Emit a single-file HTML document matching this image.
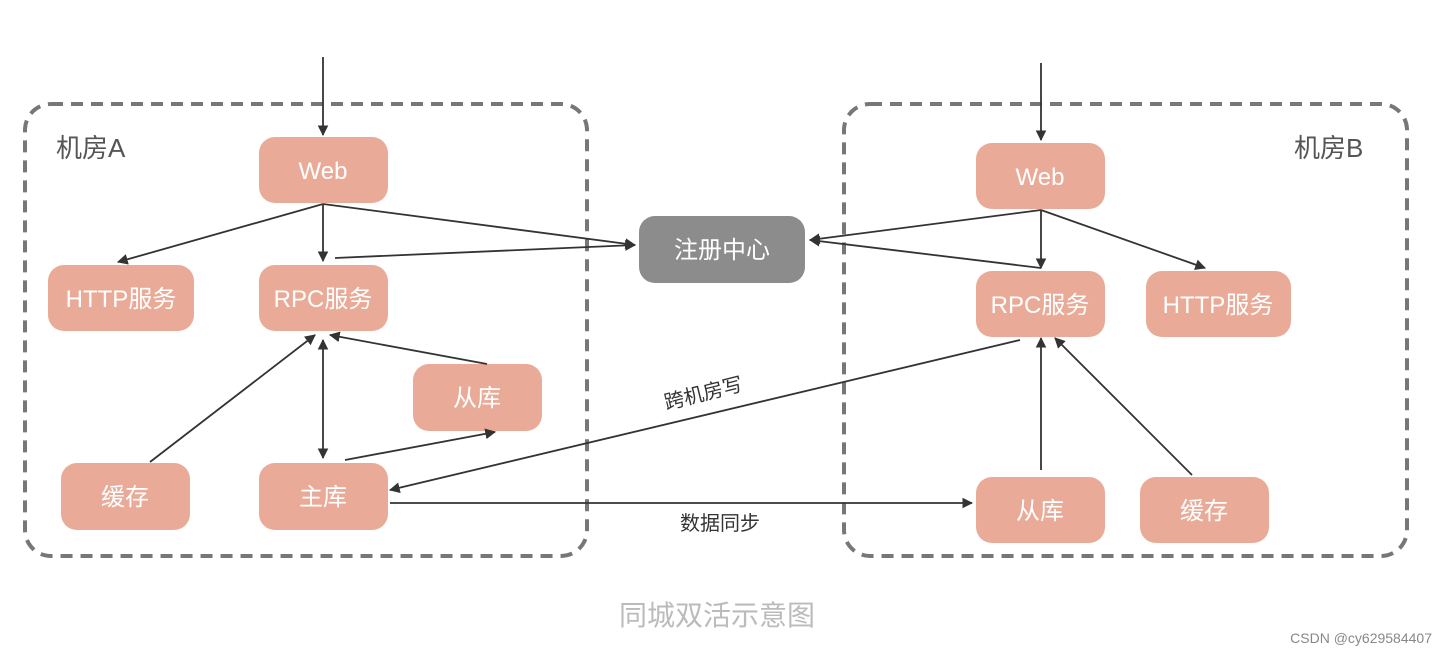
<!DOCTYPE html>
<html><head><meta charset="utf-8"><style>
html,body{margin:0;padding:0;background:#fff;}
svg{display:block}
text{font-family:"Liberation Sans","Noto Sans CJK SC",sans-serif;}
</style></head><body>
<svg width="1448" height="656" viewBox="0 0 1448 656" xmlns="http://www.w3.org/2000/svg">
<defs>
<marker id="a" viewBox="0 0 10 10" refX="9" refY="5" markerWidth="6" markerHeight="6" orient="auto-start-reverse"><path d="M0,0 L10,5 L0,10 z" fill="#333"/></marker>
</defs>
<g fill="none" stroke="#777" stroke-width="4" stroke-dasharray="12,8">
<rect x="25" y="104" width="562" height="452" rx="26"/>
<rect x="844" y="104" width="563" height="452" rx="26"/>
</g>
<text x="56" y="157" font-size="26" fill="#555">机房A</text>
<text x="1294" y="157" font-size="26" fill="#555">机房B</text>
<g fill="#e9ab98">
<rect x="259" y="137" width="129" height="66" rx="16"/>
<rect x="48" y="265" width="146" height="66" rx="16"/>
<rect x="259" y="265" width="129" height="66" rx="16"/>
<rect x="413" y="364" width="129" height="67" rx="16"/>
<rect x="61" y="463" width="129" height="67" rx="16"/>
<rect x="259" y="463" width="129" height="67" rx="16"/>
<rect x="976" y="143" width="129" height="66" rx="16"/>
<rect x="976" y="271" width="129" height="66" rx="16"/>
<rect x="1146" y="271" width="145" height="66" rx="16"/>
<rect x="976" y="477" width="129" height="66" rx="16"/>
<rect x="1140" y="477" width="129" height="66" rx="16"/>
</g>
<rect x="639" y="216" width="166" height="67" rx="16" fill="#8c8c8c"/>
<g fill="#fff" font-size="24" text-anchor="middle">
<text x="323" y="179">Web</text>
<text x="121" y="307">HTTP服务</text>
<text x="323" y="307">RPC服务</text>
<text x="477" y="406">从库</text>
<text x="125" y="505">缓存</text>
<text x="323" y="505">主库</text>
<text x="1040" y="185">Web</text>
<text x="1040" y="313">RPC服务</text>
<text x="1218" y="313">HTTP服务</text>
<text x="1040" y="519">从库</text>
<text x="1204" y="519">缓存</text>
<text x="722" y="258">注册中心</text>
</g>
<g stroke="#333" stroke-width="1.8" fill="none" marker-end="url(#a)">
<line x1="323" y1="57" x2="323" y2="135"/>
<line x1="1041" y1="63" x2="1041" y2="140"/>
<line x1="323" y1="204" x2="118" y2="262"/>
<line x1="323" y1="204" x2="323" y2="261"/>
<line x1="323" y1="204" x2="635" y2="245"/>
<line x1="335" y1="258" x2="635" y2="245"/>
<line x1="1041" y1="210" x2="810" y2="240"/>
<line x1="1041" y1="268" x2="810" y2="240"/>
<line x1="1041" y1="210" x2="1041" y2="268"/>
<line x1="1041" y1="210" x2="1205" y2="268"/>
<line x1="150" y1="462" x2="315" y2="335"/>
<line x1="487" y1="364" x2="330" y2="335"/>
<line x1="323" y1="340" x2="323" y2="458" marker-start="url(#a)"/>
<line x1="345" y1="460" x2="495" y2="432"/>
<line x1="1020" y1="340" x2="390" y2="490"/>
<line x1="390" y1="503" x2="972" y2="503"/>
<line x1="1041" y1="470" x2="1041" y2="338"/>
<line x1="1192" y1="475" x2="1055" y2="338"/>
</g>
<text x="705" y="400" font-size="20" fill="#333" text-anchor="middle" transform="rotate(-14 705 400)">跨机房写</text>
<text x="720" y="530" font-size="20" fill="#333" text-anchor="middle">数据同步</text>
<text x="717" y="625" font-size="28" fill="#bbb" text-anchor="middle">同城双活示意图</text>
<text x="1432" y="643" font-size="14" fill="#888" text-anchor="end">CSDN @cy629584407</text>
</svg>
</body></html>
